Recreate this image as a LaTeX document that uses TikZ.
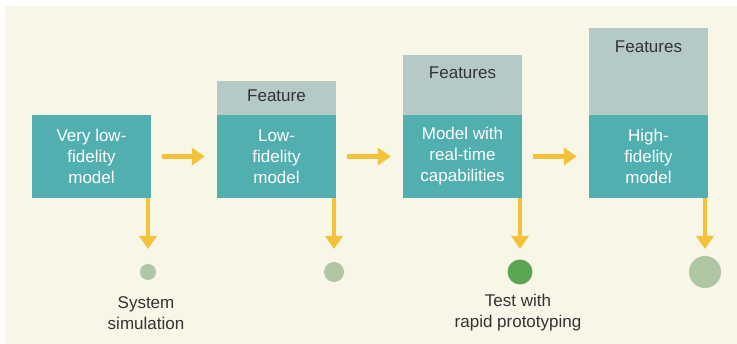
\documentclass[tikz,border=0pt]{standalone}
\usepackage{fontspec}
\setmainfont{Liberation Sans}
\usetikzlibrary{arrows.meta}

\definecolor{paper}{HTML}{F8F6E6}
\definecolor{tealbox}{HTML}{52AFAF}
\definecolor{featgray}{HTML}{B5C9C7}
\definecolor{flowyellow}{HTML}{F3C13A}
\definecolor{dotpale}{HTML}{AFC6A5}
\definecolor{dotgreen}{HTML}{5DA552}
\definecolor{inkgray}{HTML}{333333}

\tikzset{
  model/.style={fill=tealbox, text=white, minimum width=119pt, minimum height=83pt,
    inner sep=0pt, align=center, font=\fontsize{17}{21}\selectfont},
  feat/.style={fill=featgray, minimum width=119pt, inner sep=0pt, anchor=south},
  featlbl/.style={text=inkgray, font=\fontsize{17}{21}\selectfont},
  dot/.style={circle, inner sep=0pt},
  note/.style={text=inkgray, align=center, font=\fontsize{17}{21}\selectfont},
  flow/.style={draw=flowyellow, line width=4.5pt, -{Triangle[length=13pt,width=17pt]}}
}

\begin{document}
\begin{tikzpicture}[x=1pt,y=1pt]
   \useasboundingbox (0,0) rectangle (737,-344);
   \fill[paper] (5,-6) rectangle (737,-344);

   % model boxes
   \node[model] (m1) at (91.5,-156.5)  {Very low-\\fidelity\\model};
   \node[model] (m2) at (276.5,-156.5) {Low-\\fidelity\\model};
   \node[model] (m3) at (462.5,-156.5) {Model with\\real-time\\capabilities};
   \node[model] (m4) at (648.5,-156.5) {High-\\fidelity\\model};

   % feature caps
   \node[feat, minimum height=34pt] (f2) at (m2.north) {};
   \node[feat, minimum height=60pt] (f3) at (m3.north) {};
   \node[feat, minimum height=87pt] (f4) at (m4.north) {};

   \node[featlbl] (l2) at ([yshift=-15pt]f2.north) {Feature};
   \node[featlbl] (l3) at ([yshift=-18pt]f3.north) {Features};
   \node[featlbl] (l4) at ([yshift=-19pt]f4.north) {Features};

   % outcomes
   \node[dot, fill=dotpale,  minimum size=16pt] (c1) at (148,-272) {};
   \node[dot, fill=dotpale,  minimum size=20pt] (c2) at (334,-272) {};
   \node[dot, fill=dotgreen, minimum size=25pt] (c3) at (520,-272) {};
   \node[dot, fill=dotpale,  minimum size=32pt] (c4) at (705,-272) {};

   \node[note] (n1) at (146,-313) {System\\simulation};
   \node[note] (n3) at (518,-313) {Test with\\rapid prototyping};

   % flow
   \draw[flow, shorten <=11pt, shorten >=12pt] (m1.east) -- (m2.west);
   \draw[flow, shorten <=11pt, shorten >=12pt] (m2.east) -- (m3.west);
   \draw[flow, shorten <=11pt, shorten >=12pt] (m3.east) -- (m4.west);

   \draw[flow, shorten >=23pt] (m1.south -| c1) -- (c1.center);
   \draw[flow, shorten >=23pt] (m2.south -| c2) -- (c2.center);
   \draw[flow, shorten >=23pt] (m3.south -| c3) -- (c3.center);
   \draw[flow, shorten >=23pt] (m4.south -| c4) -- (c4.center);
\end{tikzpicture}
\end{document}
